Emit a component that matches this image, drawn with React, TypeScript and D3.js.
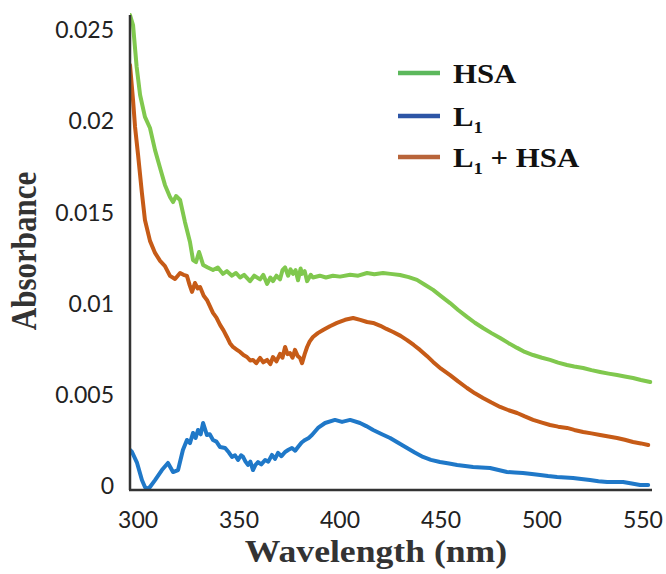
import React from "react";
import * as d3 from "d3";

const xTicks = [300, 350, 400, 450, 500, 550];
const yTicks = [0, 0.005, 0.01, 0.015, 0.02, 0.025];
const yTickLabels = ["0", "0.005", "0.01", "0.015", "0.02", "0.025"];

const hsaNm = [296.0, 297.5, 299.3, 301.0, 303.4, 305.9, 308.4, 310.9, 313.3, 315.8, 317.3, 318.8, 320.8, 323.2, 325.7, 327.2, 328.7, 330.2, 332.2, 334.5, 337.1, 339.5, 342.0, 344.0, 346.5, 348.5, 350.5, 352.5, 355.4, 357.5, 360.4, 362.0, 363.9, 365.5, 366.8, 368.5, 370.3, 371.5, 372.8, 374.3, 375.5, 376.7, 378.0, 379.2, 380.5, 381.2, 382.5, 383.7, 385.5, 386.6, 390.0, 393.0, 396.5, 400.0, 405.0, 409.0, 413.4, 417.0, 421.3, 425.0, 429.7, 434.0, 438.1, 442.0, 446.1, 450.0, 454.5, 458.5, 462.9, 466.8, 470.8, 475.0, 479.3, 483.5, 487.7, 491.5, 495.6, 500.0, 504.0, 508.0, 512.4, 516.0, 520.4, 524.5, 528.8, 533.0, 537.2, 541.0, 545.1, 549.0, 553.6];
const hsaAbs = [0.026, 0.02545, 0.02315, 0.02161, 0.02041, 0.0198, 0.01859, 0.01761, 0.01668, 0.01602, 0.01574, 0.01607, 0.01585, 0.01465, 0.01355, 0.01256, 0.01245, 0.013, 0.01229, 0.01215, 0.01201, 0.01215, 0.0118, 0.01195, 0.0117, 0.01185, 0.0116, 0.01175, 0.0114, 0.0117, 0.0115, 0.01175, 0.01125, 0.0116, 0.0114, 0.0117, 0.0115, 0.012, 0.01215, 0.0117, 0.01205, 0.0118, 0.012, 0.01145, 0.0121, 0.0118, 0.01195, 0.0114, 0.01175, 0.0116, 0.0117, 0.0116, 0.0117, 0.01165, 0.01175, 0.0117, 0.01185, 0.01178, 0.01185, 0.0118, 0.01174, 0.01162, 0.01147, 0.0112, 0.01092, 0.01058, 0.0102, 0.00982, 0.00944, 0.00912, 0.00883, 0.00855, 0.00828, 0.008, 0.00774, 0.00752, 0.00735, 0.0072, 0.00708, 0.00693, 0.0068, 0.00672, 0.00664, 0.00652, 0.00642, 0.00633, 0.00625, 0.00617, 0.00609, 0.00598, 0.00587];

const l1Nm = [296.0, 297.0, 299.5, 301.9, 303.4, 304.4, 305.9, 308.4, 311.8, 314.8, 317.3, 319.8, 322.2, 324.2, 325.7, 327.2, 328.5, 329.7, 331.0, 332.2, 334.1, 335.5, 337.1, 338.8, 340.6, 343.1, 345.0, 346.5, 348.0, 349.5, 351.0, 352.0, 353.2, 354.4, 355.6, 356.9, 358.0, 359.4, 361.0, 362.9, 364.5, 366.3, 367.8, 369.3, 371.0, 372.8, 374.5, 376.2, 377.8, 379.2, 381.0, 382.7, 384.5, 386.1, 389.1, 392.6, 397.5, 401.0, 405.0, 409.9, 413.0, 416.4, 420.5, 424.8, 429.0, 433.2, 437.0, 441.1, 445.0, 449.5, 454.0, 458.0, 462.0, 465.9, 470.0, 474.3, 478.5, 482.7, 486.5, 490.6, 495.0, 499.1, 503.0, 507.5, 511.5, 515.4, 519.5, 523.8, 528.0, 532.3, 536.0, 540.2, 544.5, 548.6, 552.6];
const l1Abs = [0.00214, 0.00203, 0.00143, 0.00049, 0.00011, 0.0, 0.00011, 0.00049, 0.00104, 0.00143, 0.00093, 0.00104, 0.00214, 0.00269, 0.00252, 0.00307, 0.0028, 0.00324, 0.003, 0.00362, 0.00296, 0.003, 0.00269, 0.0026, 0.0023, 0.00225, 0.002, 0.00176, 0.00185, 0.00159, 0.00185, 0.00176, 0.0015, 0.00132, 0.0015, 0.00104, 0.0013, 0.00148, 0.00135, 0.00159, 0.0015, 0.00187, 0.00165, 0.00198, 0.0018, 0.00203, 0.00215, 0.00225, 0.0021, 0.0023, 0.00255, 0.00269, 0.0028, 0.00296, 0.00335, 0.00362, 0.00379, 0.00368, 0.00379, 0.00362, 0.00345, 0.00324, 0.00302, 0.0028, 0.00252, 0.00225, 0.002, 0.00176, 0.0016, 0.00148, 0.0014, 0.00132, 0.00126, 0.00121, 0.00118, 0.00115, 0.00104, 0.00093, 0.00091, 0.00088, 0.00082, 0.00077, 0.00071, 0.00066, 0.00063, 0.0006, 0.00055, 0.00049, 0.00043, 0.00038, 0.00038, 0.00038, 0.0003, 0.00022, 0.00022];

const l1HsaNm = [296.0, 297.5, 298.5, 300.0, 301.9, 303.4, 305.9, 308.4, 310.9, 313.3, 315.8, 318.3, 320.8, 322.5, 324.2, 325.5, 326.7, 328.2, 329.5, 330.7, 332.5, 334.1, 337.1, 338.8, 340.6, 342.3, 344.0, 345.5, 347.0, 348.8, 350.5, 352.2, 353.9, 355.5, 356.9, 358.5, 360.4, 362.0, 363.9, 365.5, 366.8, 368.5, 370.3, 371.5, 372.8, 374.0, 375.2, 376.5, 377.7, 379.0, 380.2, 381.2, 382.5, 383.7, 385.0, 386.6, 389.0, 391.6, 395.0, 398.5, 402.5, 406.5, 410.0, 413.4, 416.4, 420.0, 423.0, 426.3, 430.0, 433.2, 436.5, 439.6, 443.0, 446.1, 450.0, 454.5, 458.5, 462.9, 466.8, 470.8, 475.0, 479.3, 483.5, 487.7, 491.5, 495.6, 500.0, 504.0, 508.0, 512.4, 516.0, 520.4, 524.5, 528.8, 533.0, 537.2, 541.0, 545.1, 549.0, 552.6];
const l1HsaAbs = [0.02326, 0.02134, 0.01986, 0.01832, 0.01624, 0.01476, 0.01361, 0.01295, 0.01251, 0.01223, 0.01169, 0.01152, 0.01185, 0.01175, 0.01169, 0.0112, 0.01081, 0.0113, 0.011, 0.01108, 0.0106, 0.01037, 0.00966, 0.0094, 0.009, 0.0087, 0.00834, 0.008, 0.00779, 0.00765, 0.00752, 0.00735, 0.00724, 0.00705, 0.00708, 0.0069, 0.00719, 0.00695, 0.00708, 0.00685, 0.00724, 0.007, 0.00741, 0.0072, 0.00779, 0.0074, 0.00746, 0.0072, 0.00763, 0.0073, 0.00719, 0.0069, 0.0074, 0.00779, 0.0081, 0.00834, 0.00855, 0.00872, 0.00893, 0.00911, 0.00928, 0.00938, 0.00928, 0.00916, 0.00911, 0.00895, 0.00878, 0.00861, 0.0084, 0.00817, 0.0079, 0.00763, 0.0073, 0.00697, 0.0066, 0.00625, 0.0059, 0.00554, 0.00525, 0.00499, 0.00474, 0.0045, 0.00432, 0.00417, 0.00398, 0.00379, 0.00364, 0.00351, 0.00342, 0.00335, 0.00324, 0.00313, 0.00305, 0.00296, 0.00288, 0.0028, 0.0027, 0.00258, 0.0025, 0.00241];

const seriesNames = ["HSA", "L1", "L1 + HSA"];
const lineColors = ["#80c84e", "#1f78c8", "#c65b17"];
const legendColors = ["#5cb85c", "#2d55a6", "#b8643a"];

export default function App() {
  const W = 666;
  const H = 574;
  const x = d3.scaleLinear().domain([296, 554]).range([130, 651]);
  const y = d3.scaleLinear().domain([0, 0.026]).range([489, 15]);
  const line = d3
    .line<[number, number]>()
    .x((d) => x(d[0]))
    .y((d) => y(d[1]));

  const series: [number, number][][] = [
    hsaNm.map((n, i) => [n, hsaAbs[i]] as [number, number]),
    l1Nm.map((n, i) => [n, l1Abs[i]] as [number, number]),
    l1HsaNm.map((n, i) => [n, l1HsaAbs[i]] as [number, number]),
  ];

  const legendY = [73, 116, 157];
  const serif = "'Liberation Serif', 'Times New Roman', serif";
  const sans = "Lato, 'Open Sans', sans-serif";

  return (
    <svg
      width={W}
      height={H}
      style={{ position: "absolute", left: 0, top: 0, background: "#fff" }}
    >
      <rect width={W} height={H} fill="#fff" />
      <defs>
        <clipPath id="plot">
          <rect x={130} y={10} width={530} height={480} />
        </clipPath>
      </defs>
      <g clipPath="url(#plot)">
        {[0, 2, 1].map((i) => (
          <path
            key={i}
            d={line(series[i]) || ""}
            fill="none"
            stroke={lineColors[i]}
            strokeWidth={4}
            strokeLinejoin="round"
            strokeLinecap="round"
          />
        ))}
      </g>
      <line x1={130} x2={130} y1={15} y2={490} stroke="#333" strokeWidth={2.5} />
      <line x1={129} x2={652} y1={490} y2={490} stroke="#333" strokeWidth={2.5} />
      {yTicks.map((t, i) => (
        <text
          key={t}
          x={114}
          y={y(t) + 5}
          textAnchor="end"
          fontFamily={sans}
          fontSize={23}
          fill="#222"
        >
          {yTickLabels[i]}
        </text>
      ))}
      {xTicks.map((t) => (
        <text
          key={t}
          x={x(t)}
          y={528}
          textAnchor="middle"
          fontFamily={sans}
          fontSize={23}
          fill="#222"
        >
          {t}
        </text>
      ))}
      <text
        transform="translate(376,562) scale(1.15,1)"
        textAnchor="middle"
        fontFamily={serif}
        fontWeight="bold"
        fontSize={31}
        fill="#333"
      >
        Wavelength (nm)
      </text>
      <text
        transform="translate(36,251) rotate(-90) scale(1,1.15)"
        textAnchor="middle"
        fontFamily={serif}
        fontWeight="bold"
        fontSize={31}
        fill="#333"
      >
        Absorbance
      </text>
      {seriesNames.map((name, i) => (
        <g key={name}>
          <line
            x1={398}
            x2={440}
            y1={legendY[i]}
            y2={legendY[i]}
            stroke={legendColors[i]}
            strokeWidth={4.5}
          />
          <text
            transform={`translate(453,${legendY[i] + 10}) scale(1.1,1)`}
            fontFamily={serif}
            fontWeight="bold"
            fontSize={28}
            fill="#111"
          >
            {name.startsWith("L1") ? (
              <>
                <tspan>L</tspan>
                <tspan fontSize={17} dy={7}>1</tspan>
                <tspan dy={-7}>{name.slice(2)}</tspan>
              </>
            ) : (
              name
            )}
          </text>
        </g>
      ))}
    </svg>
  );
}
